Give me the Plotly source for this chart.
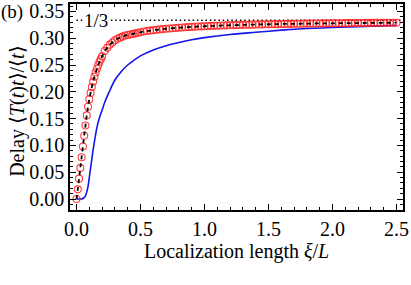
import plotly.graph_objects as go

# ---- data ----
xi_red = [0.00, 0.01, 0.02, 0.03, 0.04, 0.05, 0.06, 0.07, 0.08, 0.09,
          0.10, 0.11, 0.12, 0.13, 0.14, 0.15, 0.16, 0.17, 0.18, 0.19, 0.20,
          0.22, 0.24, 0.26, 0.28, 0.30, 0.32, 0.34, 0.36, 0.38, 0.40,
          0.42, 0.44, 0.46, 0.48, 0.50,
          0.525, 0.55, 0.575, 0.60, 0.625, 0.65, 0.675, 0.70, 0.725, 0.75,
          0.775, 0.80, 0.825, 0.85, 0.875, 0.90, 0.925, 0.95, 0.975, 1.00,
          1.025, 1.05, 1.075, 1.10, 1.125, 1.15, 1.175, 1.20, 1.225, 1.25,
          1.275, 1.30, 1.325, 1.35, 1.375, 1.40, 1.425, 1.45, 1.475, 1.50,
          1.525, 1.55, 1.575, 1.60, 1.625, 1.65, 1.675, 1.70, 1.725, 1.75,
          1.775, 1.80, 1.825, 1.85, 1.875, 1.90, 1.925, 1.95, 1.975, 2.00,
          2.025, 2.05, 2.075, 2.10, 2.125, 2.15, 2.175, 2.20, 2.225, 2.25,
          2.275, 2.30, 2.325, 2.35, 2.375, 2.40, 2.425, 2.45, 2.475, 2.50]
delay_red = [0.000, 0.018, 0.038, 0.058, 0.078, 0.098, 0.118, 0.137, 0.156, 0.172,
             0.186, 0.198, 0.209, 0.219, 0.228, 0.236, 0.243, 0.250, 0.256, 0.261, 0.266,
             0.276, 0.282, 0.288, 0.292, 0.296, 0.299, 0.301, 0.303, 0.305, 0.306,
             0.307, 0.308, 0.309, 0.310, 0.311,
             0.3124, 0.3133, 0.3142, 0.3150, 0.3157, 0.3164, 0.3170, 0.3176, 0.3182, 0.3187,
             0.3191, 0.3196, 0.3200, 0.3204, 0.3208, 0.3211, 0.3214, 0.3218, 0.3221, 0.3223,
             0.3226, 0.3229, 0.3231, 0.3233, 0.3236, 0.3238, 0.3240, 0.3242, 0.3244, 0.3245,
             0.3247, 0.3249, 0.3250, 0.3252, 0.3253, 0.3255, 0.3256, 0.3257, 0.3259, 0.3260,
             0.3261, 0.3262, 0.3263, 0.3265, 0.3266, 0.3267, 0.3268, 0.3269, 0.3270, 0.3270,
             0.3271, 0.3272, 0.3273, 0.3274, 0.3275, 0.3275, 0.3276, 0.3277, 0.3278, 0.3278,
             0.3279, 0.3280, 0.3280, 0.3281, 0.3282, 0.3282, 0.3283, 0.3283, 0.3284, 0.3284,
             0.3285, 0.3286, 0.3286, 0.3287, 0.3287, 0.3288, 0.3288, 0.3288, 0.3289, 0.3289]

xi_blue = [0.00, 0.02, 0.04, 0.05, 0.06, 0.07, 0.08, 0.09, 0.10, 0.11, 0.12, 0.13,
           0.14, 0.15, 0.16, 0.18, 0.20, 0.22, 0.25, 0.30, 0.35, 0.40, 0.45, 0.50,
           0.60, 0.70, 0.80, 0.90, 1.00, 1.20, 1.40, 1.60, 1.80, 2.00, 2.25, 2.50]
delay_blue = [0.000, 0.000, 0.000, 0.001, 0.003, 0.006, 0.013, 0.023, 0.040, 0.058, 0.075, 0.092,
              0.107, 0.121, 0.134, 0.152, 0.166, 0.180, 0.197, 0.222, 0.238, 0.250, 0.259, 0.267,
              0.278, 0.286, 0.292, 0.297, 0.301, 0.307, 0.311, 0.315, 0.318, 0.320, 0.322, 0.324]

limit_value = 1 / 3
limit_label = "1/3"
x_ticks = [0.0, 0.5, 1.0, 1.5, 2.0, 2.5]
y_ticks = [0.00, 0.05, 0.10, 0.15, 0.20, 0.25, 0.30, 0.35]
x_title = "Localization length <i>ξ</i>/<i>L</i>"
y_title = "Delay ⟨<i>T</i>(<i>t</i>)<i>t</i>⟩/⟨<i>t</i>⟩"
panel_label = "(b)"

X_RANGE = [-0.0508, 2.5508]
Y_RANGE = [-0.0205, 0.3638]

FONT = "Liberation Serif"

fig = go.Figure()

# 1/3 reference line
fig.add_trace(go.Scatter(
    x=[0, X_RANGE[1]], y=[limit_value, limit_value], mode="lines",
    line=dict(color="black", width=1.5, dash="1.5px,2.8px"),
    hoverinfo="skip", showlegend=False))

fig.add_trace(go.Scatter(
    x=xi_blue, y=delay_blue, mode="lines",
    line=dict(color="rgb(20,20,235)", width=1.6, shape="spline", smoothing=0.8),
    showlegend=False))

fig.add_trace(go.Scatter(
    x=xi_red, y=delay_red, mode="markers",
    marker=dict(symbol="circle-open", size=7, color="rgba(255,30,30,0.85)",
                line=dict(width=1.1, color="rgba(255,30,30,0.85)")),
    showlegend=False))

fig.add_trace(go.Scatter(
    x=xi_red, y=delay_red, mode="lines",
    line=dict(color="black", width=1.8, dash="4px,4px", shape="spline"),
    showlegend=False))

axis_common = dict(
    showline=True, linecolor="black", linewidth=1.5, mirror="ticks",
    ticks="inside", ticklen=6, tickwidth=1.2, tickcolor="black",
    showgrid=False, zeroline=False, automargin=False,
    tickfont=dict(family=FONT, size=20, color="black"),
)

fig.update_xaxes(
    range=X_RANGE, tickvals=x_ticks, tickformat=".1f",
    minor=dict(ticks="inside", dtick=0.1, ticklen=3, tickwidth=1, tickcolor="black", showgrid=False),
    **axis_common)
fig.update_yaxes(
    range=Y_RANGE, tickvals=y_ticks, tickformat=".2f",
    minor=dict(ticks="inside", dtick=0.01, ticklen=3, tickwidth=1, tickcolor="black", showgrid=False),
    **axis_common)

# axis titles
fig.add_annotation(x=0.5, y=-0.2, xref="paper", yref="paper", text=x_title,
                   xanchor="center", yanchor="middle", showarrow=False,
                   font=dict(family=FONT, size=20, color="black"))
fig.add_annotation(x=-0.16, y=0.48, xref="paper", yref="paper", text=y_title,
                   textangle=-90, xanchor="center", yanchor="middle", showarrow=False,
                   font=dict(family=FONT, size=20, color="black"))

fig.add_annotation(x=0.152, y=limit_value, xref="x", yref="y", text=limit_label,
                   showarrow=False, bgcolor="white", borderpad=0,
                   font=dict(family=FONT, size=19, color="black"))
fig.add_annotation(x=-0.212, y=0.962, xref="paper", yref="paper", text=panel_label,
                   xanchor="left", yanchor="middle", showarrow=False,
                   font=dict(family=FONT, size=19, color="black"))

fig.update_layout(
    width=411, height=285,
    margin=dict(l=70, r=8, t=4, b=75, autoexpand=False),
    paper_bgcolor="white", plot_bgcolor="white",
    showlegend=False,
)

fig.write_html("out.html", config={"displayModeBar": False},
               post_script="document.body.style.margin='0px';")
